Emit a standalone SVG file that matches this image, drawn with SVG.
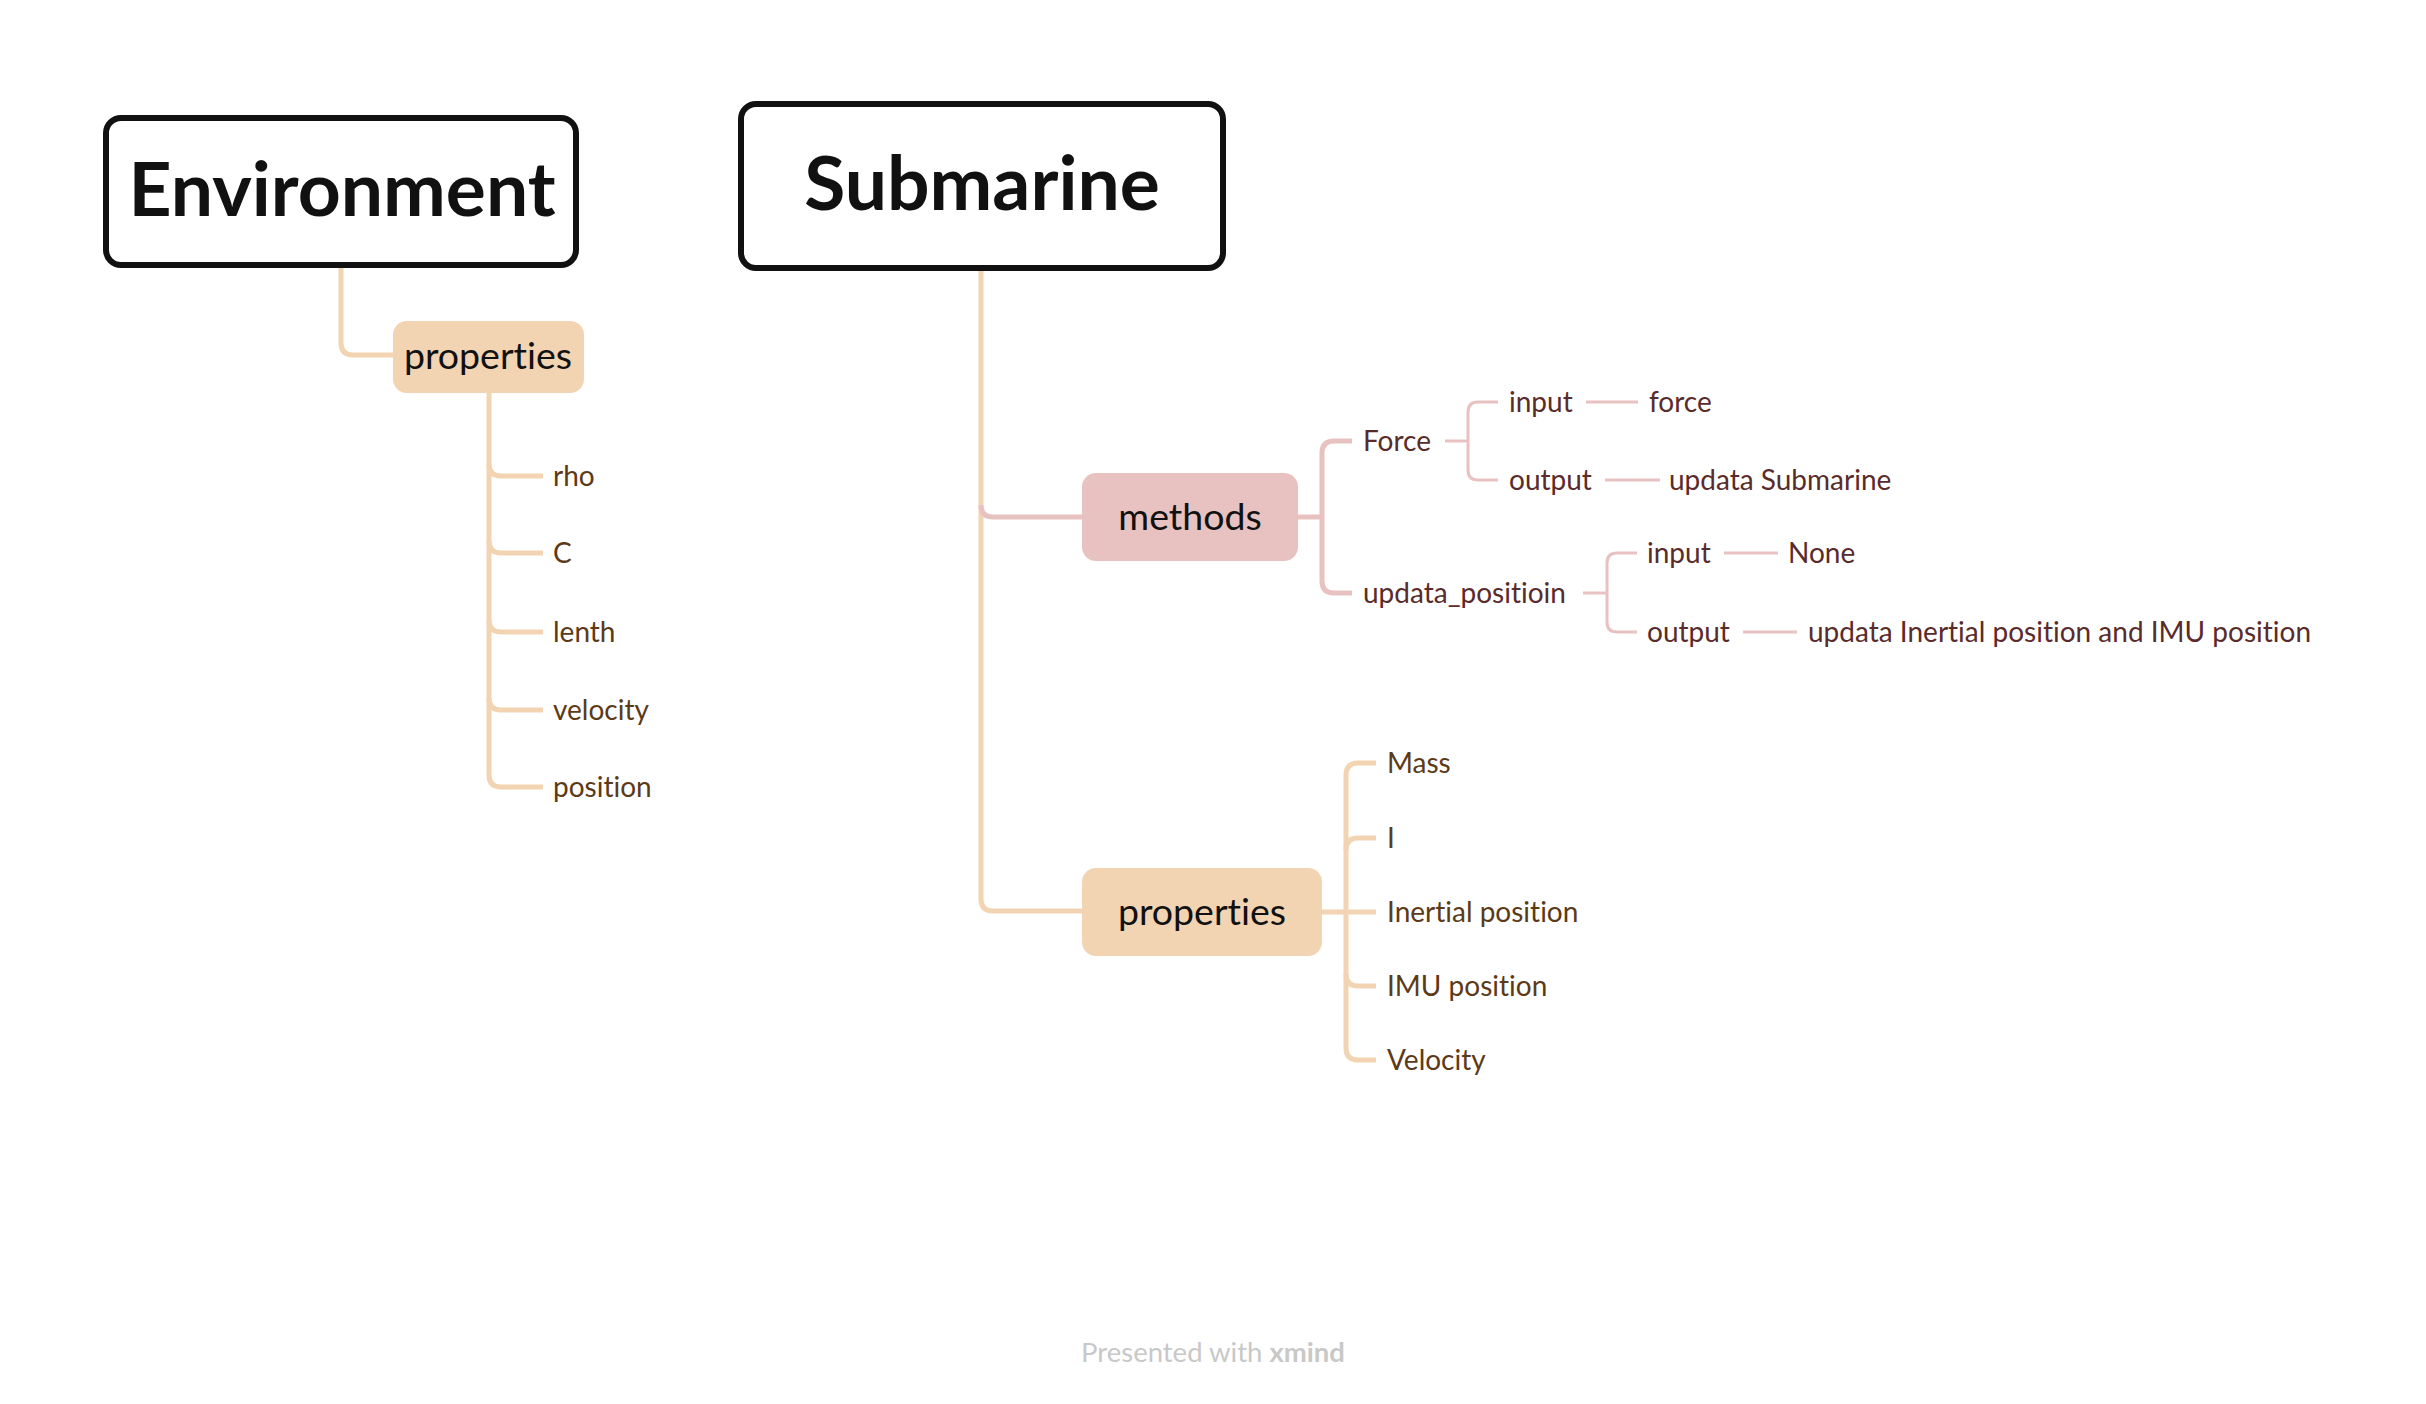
<svg xmlns="http://www.w3.org/2000/svg" width="2426" height="1404" viewBox="0 0 2426 1404">
<style>
text{font-variant-ligatures:none}
.root{fill:#fff;stroke:#111;stroke-width:6}
.title{font-family:Lato,"Noto Sans",sans-serif;font-weight:700;font-size:75px;fill:#111;text-anchor:middle}
.l1{font-family:Lato,"Noto Sans",sans-serif;font-size:37.5px;fill:#111;text-anchor:middle}
.ob{fill:#F2D4B3}
.pb{fill:#E8C2C1}
.oc{font-family:Lato,"Noto Sans",sans-serif;font-size:28px;fill:#5C3A17}
.pc{font-family:Lato,"Noto Sans",sans-serif;font-size:28px;fill:#5A2B2B}
.lo{fill:none;stroke:#F2D4B3;stroke-width:5}
.lp{fill:none;stroke:#E8C2C1;stroke-width:5}
.lp3{fill:none;stroke:#E8C2C1;stroke-width:3}
.foot{font-family:Lato,"Noto Sans",sans-serif;font-size:27.5px;fill:#C8C8C8;text-anchor:middle}
</style>
<rect width="2426" height="1404" fill="#fff"/>
<g id="connectors">
<path class="lo" d="M341,268 V343 Q341,355 353,355 H393"/>
<path class="lo" d="M489,393 V775 Q489,787 501,787 H543"/>
<path class="lo" d="M489,464 Q489,476 501,476 H543"/>
<path class="lo" d="M489,541 Q489,553 501,553 H543"/>
<path class="lo" d="M489,620 Q489,632 501,632 H543"/>
<path class="lo" d="M489,698 Q489,710 501,710 H543"/>
<path class="lo" d="M981,271 V899 Q981,911 993,911 H1082"/>
<path class="lp" d="M981,505 Q981,517 993,517 H1082"/>
<path class="lp" d="M1298,517 H1322"/>
<path class="lp" d="M1352,441 H1334 Q1322,441 1322,453 V581 Q1322,593 1334,593 H1352"/>
<path class="lp3" d="M1445,441 H1468"/>
<path class="lp3" d="M1498,402 H1478 Q1468,402 1468,412 V470 Q1468,480 1478,480 H1498"/>
<path class="lp3" d="M1586,402 H1638"/>
<path class="lp3" d="M1605,480 H1660"/>
<path class="lp3" d="M1583,593 H1607"/>
<path class="lp3" d="M1637,553 H1617 Q1607,553 1607,563 V622 Q1607,632 1617,632 H1637"/>
<path class="lp3" d="M1724,553 H1778"/>
<path class="lp3" d="M1743,632 H1797"/>
<path class="lo" d="M1322,912 H1376"/>
<path class="lo" d="M1376,763 H1358 Q1346,763 1346,775 V1048 Q1346,1060 1358,1060 H1376"/>
<path class="lo" d="M1376,838 H1358 Q1346,838 1346,850"/>
<path class="lo" d="M1346,974 Q1346,986 1358,986 H1376"/>
</g>
<g id="environment">
<rect class="root" x="106" y="118" width="470" height="147" rx="15"/>
<text class="title" x="342" y="216">Environment</text>
</g>
<g id="env-properties">
<rect class="ob" x="393" y="321" width="191" height="72" rx="14"/>
<text class="l1" x="488" y="369">properties</text>
</g>
<g id="env-rho"><text class="oc" x="553" y="486">rho</text></g>
<g id="env-c"><text class="oc" x="553" y="563">C</text></g>
<g id="env-lenth"><text class="oc" x="553" y="642">lenth</text></g>
<g id="env-velocity"><text class="oc" x="553" y="720">velocity</text></g>
<g id="env-position"><text class="oc" x="553" y="797">position</text></g>
<g id="submarine">
<rect class="root" x="741" y="104" width="482" height="164" rx="15"/>
<text class="title" x="982" y="210">Submarine</text>
</g>
<g id="methods">
<rect class="pb" x="1082" y="473" width="216" height="88" rx="14"/>
<text class="l1" x="1190" y="530">methods</text>
</g>
<g id="force"><text class="pc" x="1363" y="451">Force</text></g>
<g id="force-input"><text class="pc" x="1509" y="412">input</text></g>
<g id="force-input-val"><text class="pc" x="1649" y="412">force</text></g>
<g id="force-output"><text class="pc" x="1509" y="490">output</text></g>
<g id="force-output-val"><text class="pc" x="1669" y="490">updata Submarine</text></g>
<g id="updata-positioin"><text class="pc" x="1363" y="603">updata_positioin</text></g>
<g id="up-input"><text class="pc" x="1647" y="563">input</text></g>
<g id="up-input-val"><text class="pc" x="1788" y="563">None</text></g>
<g id="up-output"><text class="pc" x="1647" y="642">output</text></g>
<g id="up-output-val"><text class="pc" x="1808" y="642">updata Inertial position and IMU position</text></g>
<g id="sub-properties">
<rect class="ob" x="1082" y="868" width="240" height="88" rx="14"/>
<text class="l1" x="1202" y="925">properties</text>
</g>
<g id="mass"><text class="oc" x="1387" y="773">Mass</text></g>
<g id="i"><text class="oc" x="1387" y="848">I</text></g>
<g id="inertial"><text class="oc" x="1387" y="922">Inertial position</text></g>
<g id="imu"><text class="oc" x="1387" y="996">IMU position</text></g>
<g id="velocity"><text class="oc" x="1387" y="1070">Velocity</text></g>
<text class="foot" x="1213" y="1362">Presented with <tspan font-weight="700">xmind</tspan></text>
</svg>
